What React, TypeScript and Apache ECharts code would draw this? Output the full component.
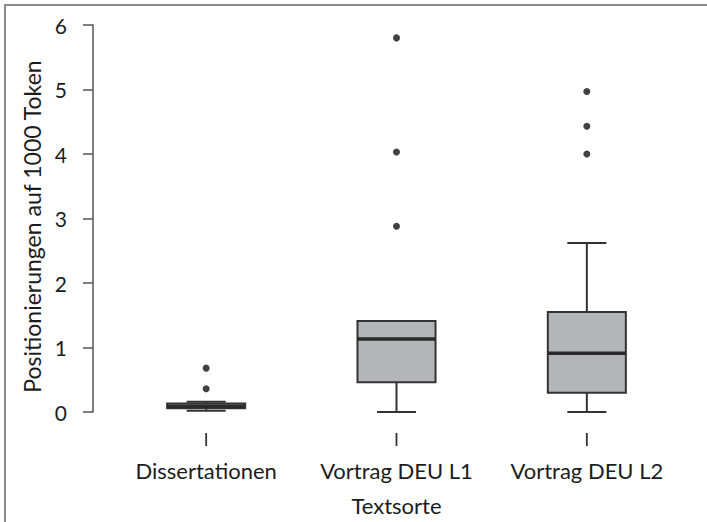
import React, { useEffect, useRef } from "react";
import * as echarts from "echarts";

const categories = ["Dissertationen", "Vortrag DEU L1", "Vortrag DEU L2"];
// [min, Q1, median, Q3, max]
const boxStats = [
  [0.02, 0.06, 0.09, 0.13, 0.16],
  [0.0, 0.46, 1.13, 1.41, 1.41],
  [0.0, 0.3, 0.91, 1.55, 2.62],
];
const outliers = [
  [0, 0.68],
  [0, 0.36],
  [1, 5.8],
  [1, 4.03],
  [1, 2.88],
  [2, 4.97],
  [2, 4.43],
  [2, 4.0],
];
const yTicks = [0, 1, 2, 3, 4, 5, 6];

const FONT = "Lato";
const INK = "#333333";
const TEXT = "#1c1c1c";

export default function App() {
  const ref = useRef<HTMLDivElement>(null);
  useEffect(() => {
    document.body.style.margin = "0";
    const chart = echarts.init(ref.current!, undefined, { renderer: "svg" });
    const boxData = boxStats.map((s, i) => [i, ...s]);
    chart.setOption({
      animation: false,
      backgroundColor: "#ffffff",
      textStyle: { fontFamily: FONT },
      graphic: [
        {
          type: "rect",
          shape: { x: 5, y: 5, width: 760, height: 560 },
          style: { fill: "none", stroke: "#8a8a8a", lineWidth: 2 },
          silent: true,
        },
      ],
      grid: { left: 111, width: 571, top: 25, bottom: 110 },
      xAxis: {
        type: "category",
        data: categories,
        boundaryGap: true,
        axisLine: { show: false },
        axisTick: { show: false },
        axisLabel: {
          color: TEXT,
          fontSize: 22,
          fontFamily: FONT,
          margin: 47,
          interval: 0,
        },
        name: "Textsorte",
        nameLocation: "middle",
        nameGap: 82,
        nameTextStyle: { color: TEXT, fontSize: 22, fontFamily: FONT },
        splitLine: { show: false },
      },
      yAxis: {
        type: "value",
        min: 0,
        max: 6,
        interval: 1,
        offset: 18,
        axisLine: { show: true, lineStyle: { color: "#555", width: 1.5 } },
        axisTick: { show: true, length: 10, lineStyle: { color: "#555", width: 1.5 } },
        axisLabel: {
          color: TEXT,
          fontSize: 21,
          fontFamily: FONT,
          margin: 26,
          formatter: (v: number) => (yTicks.includes(v) ? String(v) : ""),
        },
        splitLine: { show: false },
        name: "Positionierungen auf 1000 Token",
        nameLocation: "middle",
        nameGap: 49,
        nameTextStyle: {
          color: TEXT,
          fontSize: 23,
          fontFamily: FONT,
          padding: [0, 16, 0, 0],
        },
      },
      series: [
        {
          type: "custom",
          data: boxData,
          encode: { x: 0, y: [1, 2, 3, 4, 5] },
          renderItem: (params: any, api: any) => {
            const x = api.value(0);
            const mn = api.coord([x, api.value(1)]);
            const q1 = api.coord([x, api.value(2)]);
            const md = api.coord([x, api.value(3)]);
            const q3 = api.coord([x, api.value(4)]);
            const mx = api.coord([x, api.value(5)]);
            const zero = api.coord([x, 0]);
            const band = api.size([1, 0])[0];
            const bw = band * 0.41;
            const cw = bw / 2;
            const cx = mn[0];
            const lineStyle = { stroke: INK, lineWidth: 2 };
            return {
              type: "group",
              children: [
                {
                  type: "line",
                  shape: { x1: cx, y1: zero[1] + 21, x2: cx, y2: zero[1] + 34 },
                  style: { stroke: INK, lineWidth: 1.8 },
                },
                {
                  type: "line",
                  shape: { x1: cx, y1: mx[1], x2: cx, y2: q3[1] },
                  style: lineStyle,
                },
                {
                  type: "line",
                  shape: { x1: cx, y1: q1[1], x2: cx, y2: mn[1] },
                  style: lineStyle,
                },
                {
                  type: "rect",
                  shape: { x: cx - bw / 2, y: q3[1], width: bw, height: q1[1] - q3[1] },
                  style: { fill: "#b4b5b8", stroke: INK, lineWidth: 2 },
                },
                {
                  type: "line",
                  shape: { x1: cx - bw / 2, y1: md[1], x2: cx + bw / 2, y2: md[1] },
                  style: { stroke: "#2a2a2a", lineWidth: 3.5 },
                },
                {
                  type: "line",
                  shape: { x1: cx - cw / 2, y1: mx[1], x2: cx + cw / 2, y2: mx[1] },
                  style: lineStyle,
                },
                {
                  type: "line",
                  shape: { x1: cx - cw / 2, y1: mn[1], x2: cx + cw / 2, y2: mn[1] },
                  style: lineStyle,
                },
              ],
            };
          },
          z: 2,
        },
        {
          type: "scatter",
          data: outliers,
          symbol: "circle",
          symbolSize: 7,
          itemStyle: { color: "#111" },
          z: 3,
        },
      ],
    });
    return () => chart.dispose();
  }, []);
  return <div ref={ref} style={{ width: 707, height: 522 }} />;
}
